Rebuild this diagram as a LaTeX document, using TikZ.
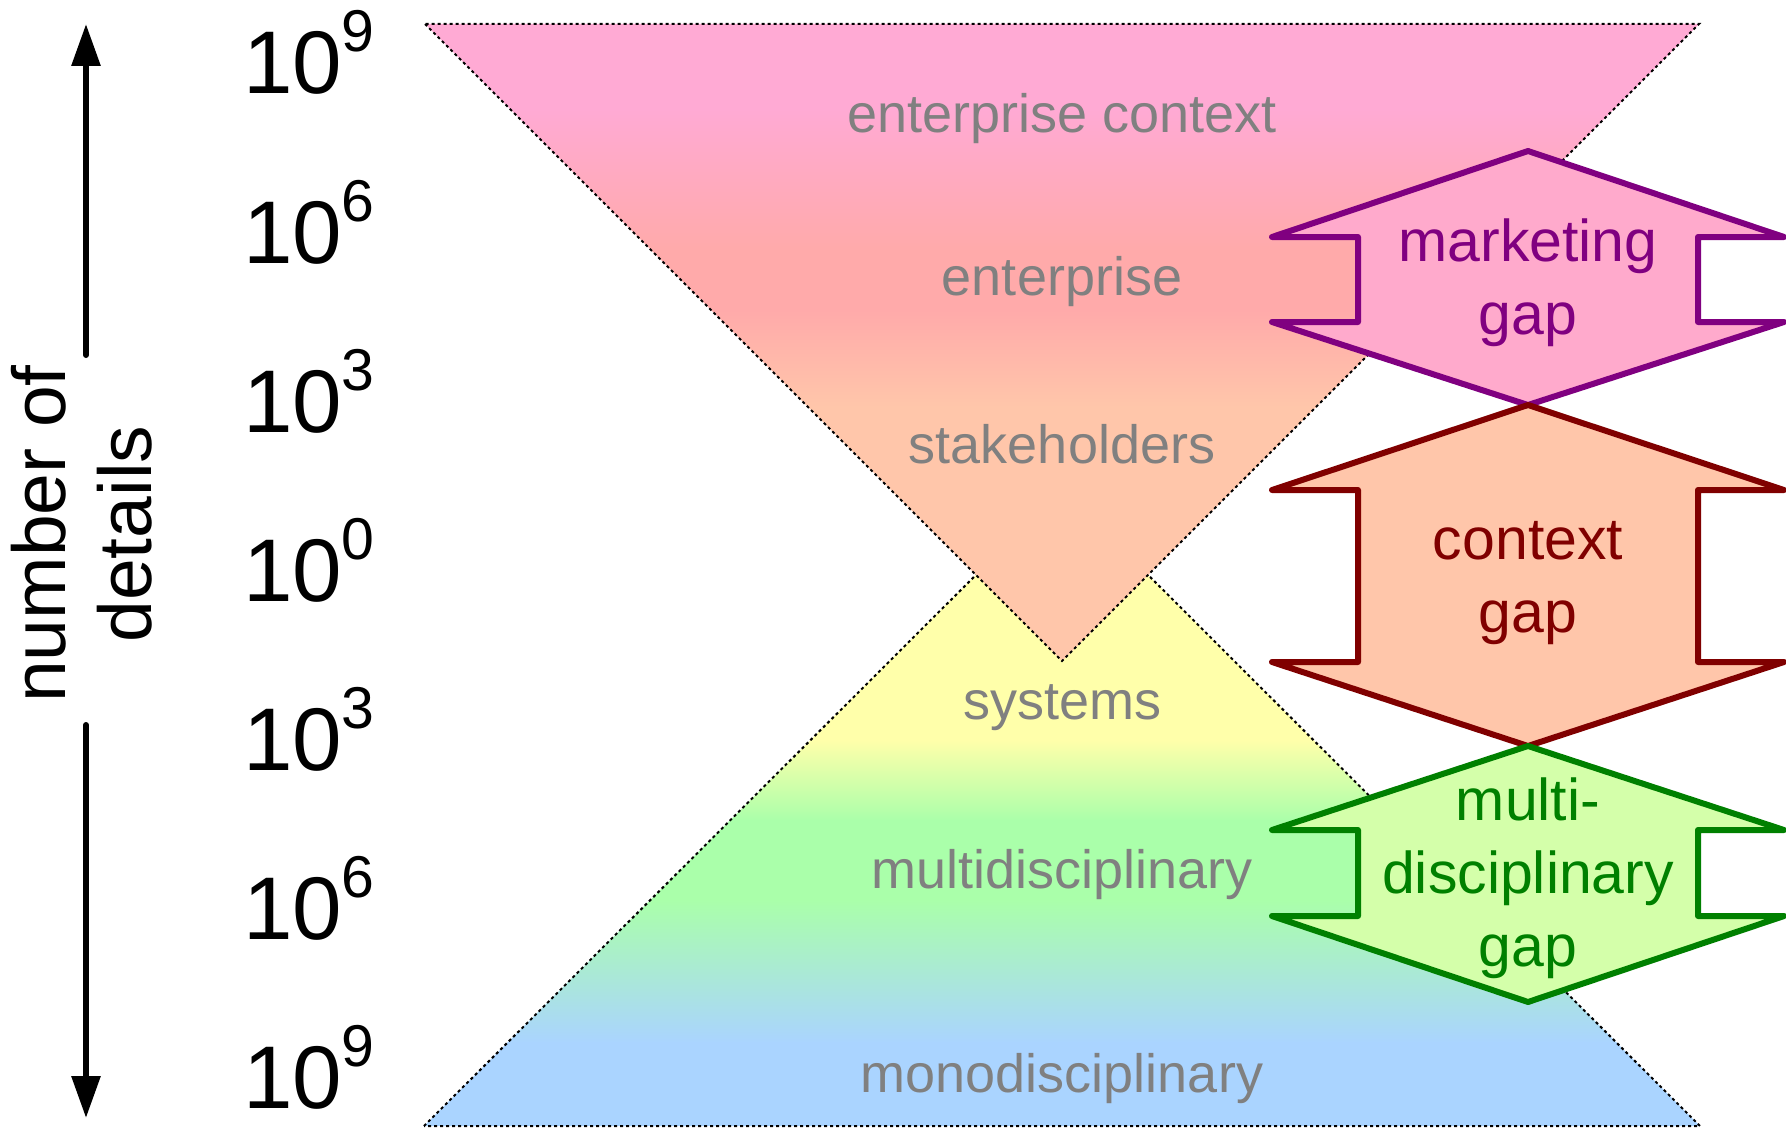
\documentclass[tikz,border=0pt]{standalone}
\usepackage{fontspec}
\setmainfont{Liberation Sans}
\usetikzlibrary{arrows.meta}

\definecolor{pinkband}{RGB}{255,170,212}
\definecolor{salmonband}{RGB}{255,170,170}
\definecolor{peachband}{RGB}{255,198,170}
\definecolor{yellowband}{RGB}{255,255,170}
\definecolor{greenband}{RGB}{170,255,170}
\definecolor{blueband}{RGB}{170,212,255}
\definecolor{mktfill}{RGB}{255,170,204}
\definecolor{mdfill}{RGB}{212,255,170}
\definecolor{labelgray}{RGB}{128,128,128}
\definecolor{mktline}{RGB}{128,0,128}
\definecolor{ctxline}{RGB}{128,0,0}
\definecolor{mdline}{RGB}{0,128,0}

\newcommand{\tenpow}[1]{10\raisebox{42pt}{\fontsize{59}{59}\selectfont #1}}

\begin{document}
\begin{tikzpicture}[x=1pt,y=-1pt]
\tikzstyle{every node} = [inner sep=0pt, outer sep=0pt]
\tikzstyle{power} = [anchor=base west, font=\fontsize{89}{107}\selectfont]
\tikzstyle{level} = [anchor=base, text=labelgray, font=\fontsize{54}{65}\selectfont]
\tikzstyle{gap} = [line width=6pt, line join=round]
\tikzstyle{gaptext} = [anchor=base, align=center, font=\fontsize{59}{73}\selectfont]
\tikzstyle{outline} = [line width=2pt, dash pattern=on 3pt off 3pt]
\tikzstyle{axis} = [line width=6pt, line cap=round, -{Triangle[length=42pt,width=28pt]}]

\useasboundingbox (0,0) rectangle (1786,1129);

% lower triangle
\coordinate (lowL) at (424,1126);
\coordinate (lowR) at (1700,1126);
\coordinate (lowA) at (1062,489);
\begin{scope}
\clip (lowL) -- (lowA) -- (lowR) -- cycle;
\fill[yellowband] (400,480) rectangle (1720,741);
\shade[top color=yellowband, bottom color=greenband] (400,740) rectangle (1720,821);
\fill[greenband] (400,820) rectangle (1720,901);
\shade[top color=greenband, bottom color=blueband] (400,900) rectangle (1720,1043);
\fill[blueband] (400,1042) rectangle (1720,1130);
\end{scope}
\draw[outline] (lowL) -- (lowA) -- (lowR) -- cycle;

% upper triangle
\coordinate (upL) at (425,24);
\coordinate (upR) at (1699,24);
\coordinate (upA) at (1062,661);
\begin{scope}
\clip (upL) -- (upA) -- (upR) -- cycle;
\fill[pinkband] (400,20) rectangle (1720,110);
\shade[top color=pinkband, bottom color=salmonband] (400,109) rectangle (1720,251);
\fill[salmonband] (400,250) rectangle (1720,311);
\shade[top color=salmonband, bottom color=peachband] (400,310) rectangle (1720,407);
\fill[peachband] (400,406) rectangle (1720,670);
\end{scope}
\draw[outline] (upL) -- (upA) -- (upR) -- cycle;

% levels
\node[level] (ectx) at (1062,133) {enterprise context};
\node[level] (ent) at (1062,295) {enterprise};
\node[level] (stake) at (1062,463) {stakeholders};
\node[level] (sys) at (1062,719) {systems};
\node[level] (multi) at (1062,888) {multidisciplinary};
\node[level] (mono) at (1062,1092) {monodisciplinary};

% gaps
\foreach \t/\a/\b/\d/\c/\f in {151/237/322/405/mktline/mktfill,
    405/490/662/746/ctxline/peachband, 746/830/916/1002/mdline/mdfill}
  \draw[gap, draw=\c, fill=\f] (1528,\t) -- (1784,\a) -- (1698,\a) -- (1698,\b) -- (1784,\b)
    -- (1528,\d) -- (1272,\b) -- (1358,\b) -- (1358,\a) -- (1272,\a) -- cycle;
\node[gaptext, text=mktline] (mktgap) at (1528,334) {marketing\\gap};
\node[gaptext, text=ctxline] (ctxgap) at (1528,632) {context\\gap};
\node[gaptext, text=mdline] (mdgap) at (1528,966) {multi-\\disciplinary\\gap};

% axis
\foreach \p/\y in {9/94, 6/263, 3/432, 0/601, 3/770, 6/939, 9/1108}
  \node[power] (pow\y) at (243,\y) {\tenpow{\p}};
\node[rotate=90, align=center, font=\fontsize{75}{86}\selectfont] (axlabel) at (82,534) {number of\\details};
\coordinate (axTop) at (86,24);
\coordinate (axTopFoot) at (86,355);
\coordinate (axBot) at (86,1118);
\coordinate (axBotFoot) at (86,725);
\draw[axis] (axTopFoot) -- (axTop);
\draw[axis] (axBotFoot) -- (axBot);
\end{tikzpicture}
\end{document}
